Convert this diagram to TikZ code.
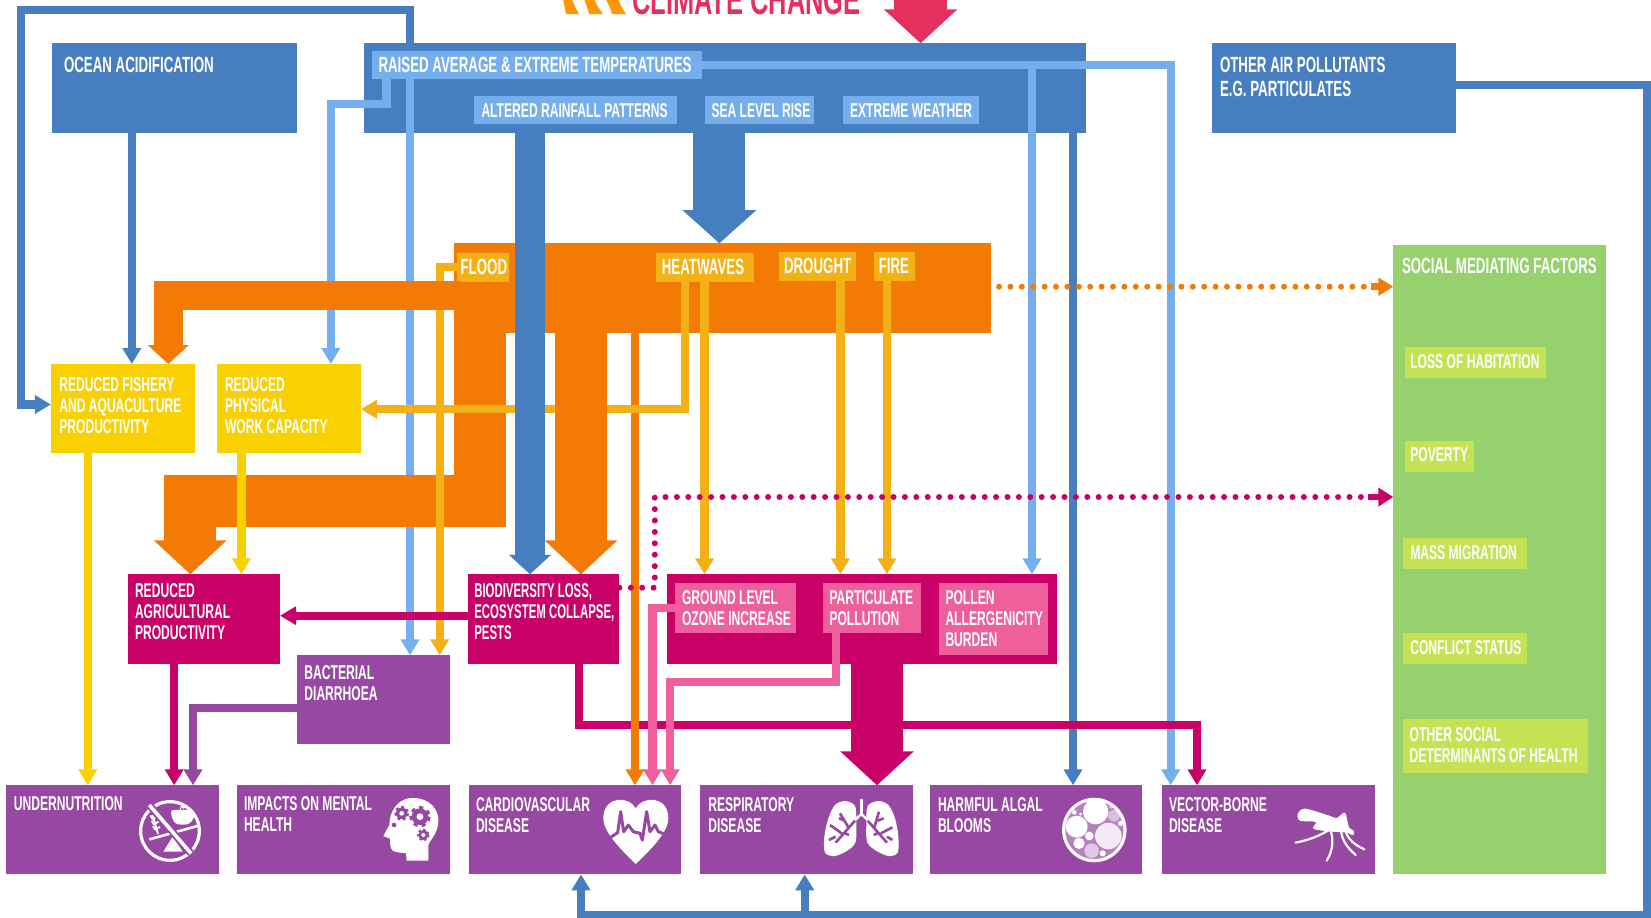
\documentclass[tikz,border=0pt]{standalone}
\usepackage{fontspec}
\usetikzlibrary{arrows.meta,calc}
\newfontfamily\cond{Liberation Sans}[FakeStretch=0.605]
\newfontfamily\condn{Liberation Sans}[FakeStretch=0.57]
\definecolor{cblue}{HTML}{477EC0}
\definecolor{clight}{HTML}{74AEEC}
\definecolor{corange}{HTML}{F27A05}
\definecolor{cyellow}{HTML}{F9D100}
\definecolor{cgold}{HTML}{F3B116}
\definecolor{cmag}{HTML}{C90068}
\definecolor{cpink}{HTML}{EE5F9C}
\definecolor{cpurple}{HTML}{9748A2}
\definecolor{cgreen}{HTML}{97D16E}
\definecolor{clime}{HTML}{C5E255}
\definecolor{cred}{HTML}{E5305F}
\definecolor{cswirl}{HTML}{FF9800}
\tikzset{
  boxbase/.style={inner sep=0pt,outer sep=0pt,anchor=north west},
  txt/.style={inner sep=0pt,outer sep=0pt,anchor=north west,align=left,text=white,font=\cond\bfseries\fontsize{10}{10.5}\selectfont},
  txtb/.style={txt,font=\cond\bfseries\fontsize{11}{12}\selectfont},
  tp/.style={-{Triangle[length=8pt,width=9pt]}},
  thin line/.style={line width=4.2pt},
  dots/.style={line width=3pt,line cap=round,dash pattern=on 0pt off 5.7pt},
}
\newcommand\bx[6]{\node[boxbase,fill=#6,minimum width={(#4-#2)*0.5pt},minimum height={(#5-#3)*0.5pt}] (#1) at (#2,#3) {};}
\newcommand\gearicon[3]{%
  \fill[cpurple] (#1,#2) circle ({#3*0.78});
  \draw[cpurple,line width={#3*0.05pt},dash pattern=on {#3*0.065pt} off {#3*0.065pt}] (#1,#2) circle ({#3*0.85});
  \fill[white] (#1,#2) circle ({#3*0.32});}
\begin{document}
\begin{tikzpicture}[x=0.5pt,y=-0.5pt]
\useasboundingbox (0,0) rectangle (1651,917);
\clip (0,0) rectangle (1651,917);
\fill[white] (0,0) rectangle (1651,917);
% title
\fill[cswirl] (563,-1) -- (572,-1) .. controls (574,6) and (577,10) .. (579,14) -- (566,14) .. controls (565,9) and (564,4) .. (563,-1) -- cycle;
\fill[cswirl] (584,-1) -- (594,-1) .. controls (597,6) and (600,10) .. (603,14) -- (589,14) .. controls (588,9) and (586,4) .. (584,-1) -- cycle;
\fill[cswirl] (606,-1) -- (618,-1) .. controls (621,6) and (623,10) .. (626,14) -- (612,14) .. controls (611,9) and (608,4) .. (606,-1) -- cycle;
\node[inner sep=0pt,anchor=base west,text=cred,font=\cond\bfseries\fontsize{21}{21}\selectfont] (title) at (632,14) {CLIMATE CHANGE};
% main boxes
\bx{ocean}{52.4}{43.3}{297}{133.3}{cblue}
\bx{temp}{364}{43.3}{1086}{133.3}{cblue}
\bx{other}{1212}{43.3}{1456.3}{133.3}{cblue}
\bx{hazards}{453.7}{243.3}{991}{332.7}{corange}
\bx{social}{1393.3}{245}{1606}{874.3}{cgreen}
\bx{fishery}{50.8}{364}{194.8}{453.3}{cyellow}
\bx{work}{217}{364}{361}{453.3}{cyellow}
\bx{agri}{127.6}{574.3}{280}{663.7}{cmag}
\bx{biodiv}{467.5}{574.3}{619.4}{663.7}{cmag}
\bx{air}{666.5}{574.3}{1056.6}{663.7}{cmag}
\bx{bact}{297}{655.3}{450}{744.3}{cpurple}
\bx{under}{6.4}{785.3}{219.2}{874.3}{cpurple}
\bx{mental}{237.2}{784.7}{449.5}{873.7}{cpurple}
\bx{cardio}{468.5}{785.3}{681.3}{874.3}{cpurple}
\bx{resp}{699.9}{785.3}{913.2}{874.3}{cpurple}
\bx{algal}{929.6}{785.3}{1142.4}{874.3}{cpurple}
\bx{vector}{1162}{785.3}{1375.3}{874.3}{cpurple}
% label boxes
\bx{ltemp}{371.6}{50.7}{701.5}{79.3}{clight}
\bx{lrain}{474}{96}{677}{124.3}{clight}
\bx{lsea}{704.6}{96}{814.2}{124.3}{clight}
\bx{lext}{842.8}{96}{979.3}{124.3}{clight}
\bx{lflood}{456.9}{252.7}{509.3}{281.7}{cgold}
\bx{lheat}{656}{252.7}{753.9}{281.7}{cgold}
\bx{ldrought}{779.3}{251.7}{855.5}{280.7}{cgold}
\bx{lfire}{873.5}{251.7}{915.3}{280.7}{cgold}
\bx{lground}{675}{583.3}{795.7}{633}{cpink}
\bx{lpart}{822.6}{583.3}{920.6}{633}{cpink}
\bx{lpollen}{939}{583.3}{1047.6}{655}{cpink}
\bx{lloss}{1405}{347.3}{1545.8}{378}{clime}
\bx{lpov}{1405}{441}{1473.8}{471.7}{clime}
\bx{lmass}{1403.4}{538}{1526.7}{569}{clime}
\bx{lconf}{1403.4}{633}{1526.7}{663.7}{clime}
\bx{lsoc}{1403.4}{719.3}{1588}{772.7}{clime}
% named junctions
\coordinate (jtemp) at (1032,64.7);
\coordinate (odot) at (999,286.7);
\coordinate (mdot) at (654.8,587.7);
\coordinate (mdott) at (654.8,497);
% loop to fishery
\draw[cblue,thin line,-{Triangle[length=8pt,width=9pt]}] (410,0 |- temp.north) -- (410,9.7) -- (21,9.7) -- (21,404.5) -- (fishery.west |- 0,404.5);
% ocean
\draw[cblue,thin line,tp] (131.8,0 |- ocean.south) -- (131.8,0 |- fishery.north);
% light blue
\draw[clight,thin line,tp] (410,0 |- ltemp.south) -- (410,0 |- bact.north);
\draw[clight,thin line,tp] (386.5,0 |- ltemp.south) -- (386.5,104) -- (330.8,104) -- (330.8,0 |- work.north);
\draw[clight,thin line,tp] (ltemp.east |- jtemp) -- (1170.7,64.7) -- (1170.7,0 |- vector.north);
\draw[clight,thin line,tp] (jtemp) -- (1032,0 |- air.north);
% dark blue
\draw[cblue,thin line,tp] (1073,0 |- temp.south) -- (1073,0 |- algal.north);
% flood line, upper part
\draw[cgold,thin line] (lflood.west |- 0,267) -- (439.7,267) -- (439.7,320);
% orange arms
\draw[corange,line width=14.65pt,-{Triangle[length=9.5pt,width=20pt]}] (460,295.35) -- (168.3,295.35) -- (168.3,0 |- fishery.north);
\draw[corange,line width=26pt,-{Triangle[length=17pt,width=35.5pt]}] (479.65,0 |- hazards.south) ++(0,-25) -- (479.65,500.8) -- (190.3,500.8) -- (190.3,0 |- agri.north);
\draw[corange,thin line,tp] (635,0 |- hazards.south) -- (635,0 |- cardio.north);
% flood line, lower part
\draw[cgold,thin line,tp] (439.7,320) -- (439.7,0 |- bact.north);
% work capacity yellow
\draw[cyellow,thin line,tp] (241.4,0 |- work.south) -- (241.4,0 |- agri.north);
\draw[cyellow,thin line,tp] (87.8,0 |- fishery.south) -- (87.8,0 |- under.north);
% heatwave
\draw[cgold,thin line,tp] (685,0 |- lheat.south) -- (685,409.2) -- (work.east |- 0,409.2);
\draw[cgold,thin line,tp] (704.6,0 |- lheat.south) -- (704.6,0 |- air.north);
\draw[cgold,thin line,tp] (840.4,0 |- ldrought.south) -- (840.4,0 |- air.north);
\draw[cgold,thin line,tp] (887,0 |- lfire.south) -- (887,0 |- air.north);
% second orange column
\draw[corange,line width=26.2pt,-{Triangle[length=17pt,width=35.5pt]}] (581,0 |- hazards.south) -- (581,0 |- biodiv.north);
% big blue
\draw[cblue,line width=14.6pt,-{Triangle[length=9.7pt,width=20.4pt]}] (530,0 |- temp.south) -- (530,0 |- biodiv.north);
\draw[cblue,line width=26pt,-{Triangle[length=16.6pt,width=36pt]}] (719.4,0 |- temp.south) -- (719.4,0 |- hazards.north);
% red climate arrow
\draw[cred,line width=26.7pt,-{Triangle[length=17pt,width=35.8pt]}] (920.6,-5) -- (920.6,0 |- temp.north);
% magenta
\draw[cmag,thin line,-{Triangle[length=8pt,width=8.8pt]}] (biodiv.west |- 0,615.7) -- (agri.east |- 0,615.7);
\draw[cmag,thin line,tp] (174.2,0 |- agri.south) -- (174.2,0 |- under.north);
\draw[cmag,thin line,tp] (579,0 |- biodiv.south) -- (579,725) -- (1197,725) -- (1197,0 |- vector.north);
\draw[cmag,line width=26.2pt,-{Triangle[length=17pt,width=35.8pt]}] (877,0 |- air.south) -- (877,0 |- resp.north);
% orange on top of magenta line
\draw[corange,thin line] (635,715) -- (635,735);
% purple
\draw[cpurple,thin line,tp] (bact.west |- 0,708) -- (193,708) -- (193,0 |- under.north);
% pink
\draw[cpink,thin line,tp] (lground.west |- 0,608) -- (652.5,608) -- (652.5,0 |- cardio.north);
\draw[cpink,thin line,tp] (835.8,0 |- lpart.south) -- (835.8,682) -- (670.2,682) -- (670.2,0 |- cardio.north);
% other air pollutants loop
\draw[cblue,thin line,tp] (other.east |- 0,85) -- (1647.5,85) -- (1647.5,915.5) -- (581,915.5) -- (581,0 |- cardio.south);
\draw[cblue,thin line,tp] (804.7,915.5) -- (804.7,0 |- resp.south);
% dotted
\draw[corange,dots] (odot) -- (1368,286.7);
\draw[corange,line width=3.4pt,-{Triangle[length=7.5pt,width=8.7pt]}] (1370.6,286.7) -- (social.west |- odot);
\draw[cmag,dots] (biodiv.east |- mdot) -- (mdot) -- (mdott) -- (1368,497);
\draw[cmag,line width=3.4pt,-{Triangle[length=7.5pt,width=9pt]}] (1368,497) -- (social.west |- mdott);
% texts
\node[txtb] (tocean) at (64,57.3) {OCEAN ACIDIFICATION};
\node[txtb] (ttemp) at (378.5,57.3) {RAISED AVERAGE \& EXTREME TEMPERATURES};
\node[txt] (train) at (481.5,103.3) {ALTERED RAINFALL PATTERNS};
\node[txt] (tsea) at (711.5,103.3) {SEA LEVEL RISE};
\node[txt] (text) at (850,103.3) {EXTREME WEATHER};
\node[txtb] (tother) at (1220,57.3) {OTHER AIR POLLUTANTS\\E.G. PARTICULATES};
\node[txtb] (tflood) at (460.6,259.3) {FLOOD};
\node[txtb] (theat) at (661.8,259.3) {HEATWAVES};
\node[txtb] (tdrought) at (784,258.5) {DROUGHT};
\node[txtb] (tfire) at (878.8,258.5) {FIRE};
\node[txtb] (tsocial) at (1402,258.3) {SOCIAL MEDIATING FACTORS};
\node[txt] (tloss) at (1410.3,354.5) {LOSS OF HABITATION};
\node[txt] (tpov) at (1410.3,447.7) {POVERTY};
\node[txt] (tmass) at (1410.3,545.3) {MASS MIGRATION};
\node[txt] (tconf) at (1410.3,641) {CONFLICT STATUS};
\node[txt] (tsoc) at (1409.7,727.7) {OTHER SOCIAL\\DETERMINANTS OF HEALTH};
\node[txt] (tfish) at (59.3,377.3) {REDUCED FISHERY\\AND AQUACULTURE\\PRODUCTIVITY};
\node[txt] (twork) at (225,377.3) {REDUCED\\PHYSICAL\\WORK CAPACITY};
\node[txt] (tagri) at (135,583.7) {REDUCED\\AGRICULTURAL\\PRODUCTIVITY};
\node[txt,font=\condn\bfseries\fontsize{10}{10.5}\selectfont] (tbio) at (474.3,583.7) {BIODIVERSITY LOSS,\\ECOSYSTEM COLLAPSE,\\PESTS};
\node[txt] (tbact) at (304.4,665.3) {BACTERIAL\\DIARRHOEA};
\node[txt] (tground) at (682,590.3) {GROUND LEVEL\\OZONE INCREASE};
\node[txt] (tpart) at (829.5,590.3) {PARTICULATE\\POLLUTION};
\node[txt] (tpollen) at (945.5,590.3) {POLLEN\\ALLERGENICITY\\BURDEN};
\node[txt] (tunder) at (13.8,796.3) {UNDERNUTRITION};
\node[txt] (tmental) at (244,796.3) {IMPACTS ON MENTAL\\HEALTH};
\node[txt] (tcardio) at (476,797.7) {CARDIOVASCULAR\\DISEASE};
\node[txt] (tresp) at (708.3,797.7) {RESPIRATORY\\DISEASE};
\node[txt] (talgal) at (938,797.7) {HARMFUL ALGAL\\BLOOMS};
\node[txt] (tvector) at (1169,797.7) {VECTOR-BORNE\\DISEASE};
% icon: no food
\begin{scope}[shift={(130,790)},x=0.16667pt,y=-0.16667pt]
\draw[white,line width=1.6pt] (120,123) circle (88);
\fill[white] plot[smooth cycle] coordinates {(125,62)(150,60)(190,62)(190,85)(175,102)(140,102)(127,85)};
\draw[white,line width=0.5pt] (150,60) -- (155,45);
\fill[white] (160,50) circle (6);
\draw[white,line width=1.3pt] (58,148) -- (202,108);
\fill[white] (100,185) -- (158,185) -- (128,140) -- cycle;
\draw[white,line width=0.9pt] (68,75) -- (84,132);
\foreach \a/\b in {68/88,72/104,76/120}{\draw[white,line width=0.9pt] (\a,\b) -- ++(-7,-12);\draw[white,line width=0.9pt] (\a,\b) -- ++(14,-10);}
\draw[cpurple,line width=3.6pt] (58,45) -- (183,190);
\draw[white,line width=1.8pt] (58,45) -- (183,190);
\end{scope}
% icon: head
\begin{scope}[shift={(370,790)},x=0.16667pt,y=-0.16667pt]
\fill[white] (175,212) -- (110,212) -- (108,190) -- (78,186) .. controls (62,184) and (60,170) .. (60,146) -- (40,138) -- (58,105) .. controls (60,50) and (95,22) .. (130,24) .. controls (180,24) and (208,60) .. (205,95) .. controls (204,130) and (180,150) .. (175,165) -- cycle;
\gearicon{95}{70}{22}
\gearicon{150}{80}{32}
\gearicon{160}{135}{19}
\fill[cpurple] (72,105) circle (7);
\end{scope}
% icon: heart
\begin{scope}[shift={(595,790)},x=0.16667pt,y=-0.16667pt]
\fill[white] (122,55) .. controls (105,18) and (25,15) .. (25,85) .. controls (25,130) and (90,190) .. (122,222) .. controls (155,190) and (220,130) .. (220,85) .. controls (220,15) and (140,18) .. (122,55) -- cycle;
\draw[cpurple,line width=1.5pt,line join=round] (42,145) -- (68,128) -- (77,65) -- (86,125) -- (100,105) -- (115,125) -- (135,130) -- (142,150) -- (155,65) -- (165,125) -- (180,105) -- (190,125) -- (218,136);
\end{scope}
% icon: lungs
\begin{scope}[shift={(815,790)},x=0.16667pt,y=-0.16667pt]
\fill[white] plot[smooth cycle] coordinates {(120,48)(90,33)(60,45)(40,85)(28,140)(30,188)(60,198)(100,180)(122,155)(124,100)};
\fill[white] plot[smooth cycle] coordinates {(158,48)(190,33)(220,45)(240,85)(250,140)(248,188)(220,198)(180,180)(156,155)(154,100)};
\draw[white,line width=1.2pt] (139,28) -- (139,72);
\draw[white,line width=1.2pt] (122,88) -- (139,72) -- (156,88);
\draw[cpurple,line width=1.3pt] (120,92) -- (62,158) (100,112) -- (75,70) (90,92) -- (72,85) (80,130) -- (45,105) (62,140) -- (42,150) (85,128) -- (102,135);
\draw[cpurple,line width=1.3pt] (158,92) -- (216,158) (178,112) -- (192,65) (188,92) -- (206,85) (198,130) -- (232,112) (216,140) -- (232,150) (192,128) -- (176,135);
\end{scope}
% icon: algae
\begin{scope}[shift={(1055,790)},x=0.16667pt,y=-0.16667pt]
\fill[cpurple!70!white] (118,120) circle (90);
\foreach \cx/\cy/\r/\c in {122/65/38/white,65/110/33/white,160/138/40/{cpurple!12!white},72/160/17/white,103/138/13/white,110/182/22/{cpurple!30!white},177/77/18/{cpurple!35!white},197/100/8/white,143/190/9/white,58/67/7/white,77/72/5/white,168/50/6/{cpurple!30!white}}{\fill[\c] (\cx,\cy) circle (\r);}
\draw[white,line width=1.6pt] (118,120) circle (92);
\end{scope}
% icon: mosquito
\begin{scope}[shift={(1285,800)},x=0.16667pt,y=-0.16667pt]
\fill[white] plot[smooth cycle] coordinates {(38,42)(60,26)(130,46)(155,54)(180,38)(192,82)(206,92)(204,106)(185,98)(130,94)(85,86)(92,66)(45,62)};
\draw[white,line width=1.1pt,line cap=round] (135,88) .. controls (100,110) and (70,120) .. (32,128);
\draw[white,line width=1.1pt,line cap=round] (137,90) .. controls (145,120) and (145,150) .. (125,182);
\draw[white,line width=1.1pt,line cap=round] (168,92) .. controls (172,125) and (190,145) .. (212,165);
\draw[white,line width=1.1pt,line cap=round] (182,94) .. controls (190,120) and (210,135) .. (238,148);
\end{scope}
\end{tikzpicture}
\end{document}
